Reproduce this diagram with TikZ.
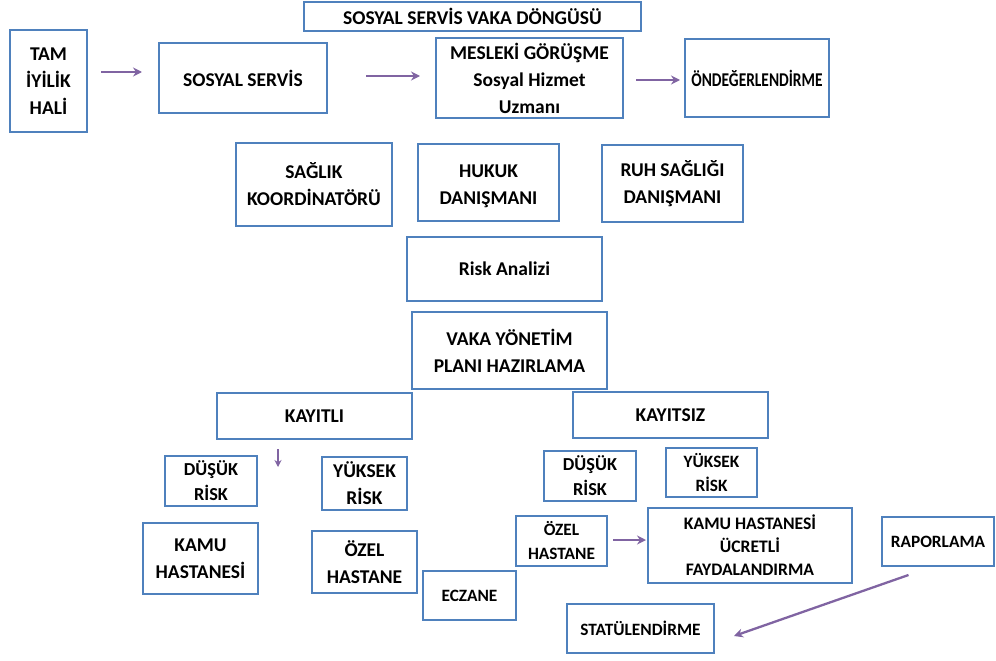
\documentclass[tikz,border=0pt]{standalone}
\usepackage{fontspec}
\setmainfont{Carlito}
\usepackage{graphicx}
\usetikzlibrary{arrows.meta}

\definecolor{kutumavi}{RGB}{79,129,189}
\definecolor{okmor}{RGB}{128,100,162}

\tikzset{
  kutu/.style={draw=kutumavi, line width=2pt, fill=white, align=center,
    inner sep=0pt, font=\bfseries\fontsize{19.5}{27}\selectfont},
  boyut/.style 2 args={minimum width=#1pt, minimum height=#2pt},
  orta/.style={font=\bfseries\fontsize{18.3}{25}\selectfont},
  kucuk/.style={font=\bfseries\fontsize{17.3}{24}\selectfont},
  enkucuk/.style={font=\bfseries\fontsize{17.6}{23}\selectfont},
  ok/.style={draw=okmor, line width=2.3pt, -{Stealth[length=9pt,width=9pt]}}
}

\begin{document}
\begin{tikzpicture}[x=1pt,y=-1pt]
    \useasboundingbox (0,0) rectangle (996,661);
    % ust sira
    \node[kutu, boyut={337}{29}] (baslik) at (472.5,16.5) {SOSYAL SERVİS VAKA DÖNGÜSÜ};
    \node[kutu, boyut={77}{102}] (tam) at (48.5,81) {TAM\\İYİLİK\\HALİ};
    \node[kutu, boyut={168}{70}] (sosyal) at (243,78) {SOSYAL SERVİS};
    \node[kutu, boyut={187}{80}] (mesleki) at (529.5,78) {MESLEKİ GÖRÜŞME\\Sosyal Hizmet\\Uzmanı};
    \node[kutu, boyut={144}{78}] (onde) at (757,78) {\scalebox{0.79}[1]{ÖNDEĞERLENDİRME}};
    % danismanlar
    \node[kutu, boyut={156}{83}] (saglik) at (314,184.5) {SAĞLIK\\KOORDİNATÖRÜ};
    \node[kutu, boyut={141}{77}] (hukuk) at (488.5,182.5) {\rule{0pt}{20pt}HUKUK\\DANIŞMANI};
    \node[kutu, boyut={141}{77}] (ruh) at (672.5,183.5) {RUH SAĞLIĞI\\DANIŞMANI};
    \node[kutu, boyut={195}{64}] (risk) at (504.5,269) {Risk Analizi};
    \node[kutu, boyut={195}{77}] (vaka) at (509.5,350.5) {VAKA YÖNETİM\\PLANI HAZIRLAMA};
    \node[kutu, boyut={195}{46}] (kayitli) at (314.5,416) {KAYITLI};
    \node[kutu, boyut={195}{46}] (kayitsiz) at (670.5,415) {KAYITSIZ};
    % kayitli kolu
    \node[kutu, orta, boyut={92}{50}] (dusukA) at (211,481) {DÜŞÜK\\RİSK};
    \node[kutu, boyut={85}{53}] (yuksekA) at (364.5,483.5) {YÜKSEK\\RİSK};
    \node[kutu, boyut={115}{71}] (kamuA) at (200.5,558.5) {KAMU\\HASTANESİ};
    \node[kutu, boyut={105}{62}] (ozelA) at (364.5,562) {ÖZEL\\HASTANE};
    \node[kutu, kucuk, boyut={93}{49}] (eczane) at (469.5,595.5) {ECZANE};
    % kayitsiz kolu
    \node[kutu, orta, boyut={92}{50}] (dusukB) at (590,476) {DÜŞÜK\\RİSK};
    \node[kutu, kucuk, boyut={91}{49}] (yuksekB) at (711.5,472.5) {YÜKSEK\\RİSK};
    \node[kutu, kucuk, boyut={91}{50}] (ozelB) at (561.5,541) {ÖZEL\\HASTANE};
    \node[kutu, enkucuk, boyut={204}{75}] (kamuB) at (750,545.5) {KAMU HASTANESİ\\ÜCRETLİ\\FAYDALANDIRMA};
    \node[kutu, kucuk, boyut={112}{49}] (rapor) at (938,541.5) {RAPORLAMA};
    \node[kutu, kucuk, boyut={147}{49}] (statu) at (640.5,628.5) {STATÜLENDİRME};
    \coordinate (kayitliuc) at (278,467);
    % oklar
    \draw[ok, shorten <=13pt, shorten >=16pt] ([yshift=9pt]tam.east) -- ([yshift=6pt]sosyal.west);
    \draw[ok, shorten <=38pt, shorten >=15pt] ([yshift=2pt]sosyal.east) -- ([yshift=2pt]mesleki.west);
    \draw[ok, shorten <=12pt, shorten >=4pt] ([yshift=-2pt]mesleki.east) -- ([yshift=-2pt]onde.west);
    \draw[ok, line width=1.6pt, -{Stealth[length=7pt,width=7pt]}, shorten <=9pt] (kayitli.south -| kayitliuc) -- (kayitliuc);
    \draw[ok, shorten <=5pt, shorten >=1pt] ([yshift=1pt]ozelB.east) -- ([yshift=5.5pt]kamuB.west);
    \draw[ok] ([xshift=-29.5pt,yshift=-8pt]rapor.south) -- ([xshift=19pt,yshift=-7.5pt]statu.east);
\end{tikzpicture}
\end{document}
